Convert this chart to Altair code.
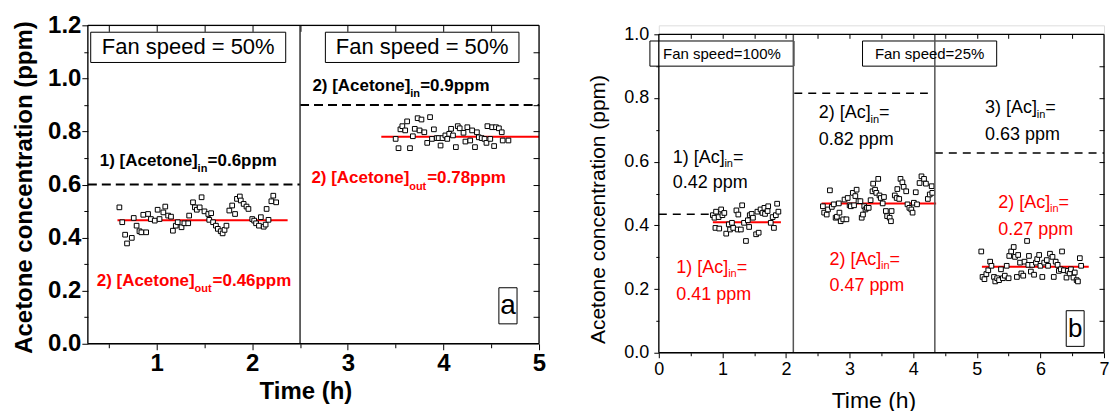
import altair as alt
import pandas as pd

FONT = "Liberation Sans"
RED = "#ff0000"
BLACK = "#000000"

# ---------------- panel (a) data ----------------
a_run1_time = [0.61, 0.64, 0.67, 0.69, 0.74, 0.76, 0.79, 0.82, 0.84, 0.86, 0.89, 0.91, 0.94, 0.98,
               1.01, 1.03, 1.07, 1.09, 1.12, 1.15, 1.17, 1.20, 1.22, 1.26, 1.29, 1.33, 1.34, 1.38,
               1.40, 1.42, 1.45, 1.47, 1.50, 1.54, 1.55, 1.57, 1.59, 1.62, 1.64, 1.67, 1.69, 1.71,
               1.73, 1.76, 1.79, 1.82, 1.84, 1.87, 1.88, 1.91, 1.94, 1.96, 2.00, 2.02, 2.04, 2.07,
               2.09, 2.12, 2.14, 2.15, 2.17, 2.20, 2.22, 2.25]
a_run1_conc = [0.514, 0.458, 0.411, 0.378, 0.399, 0.474, 0.445, 0.424, 0.420, 0.486, 0.420, 0.489,
               0.470, 0.464, 0.505, 0.470, 0.495, 0.517, 0.483, 0.479, 0.426, 0.445, 0.458, 0.439,
               0.454, 0.454, 0.483, 0.533, 0.514, 0.505, 0.514, 0.552, 0.499, 0.489, 0.467, 0.492,
               0.458, 0.445, 0.433, 0.424, 0.416, 0.429, 0.445, 0.502, 0.521, 0.489, 0.546, 0.555,
               0.540, 0.527, 0.517, 0.508, 0.470, 0.464, 0.454, 0.445, 0.477, 0.441, 0.449, 0.508,
               0.467, 0.537, 0.558, 0.533]
a_run2_time = [3.50, 3.53, 3.55, 3.57, 3.60, 3.62, 3.65, 3.68, 3.70, 3.73, 3.75, 3.77, 3.80, 3.83,
               3.86, 3.88, 3.90, 3.93, 3.95, 3.97, 3.99, 4.02, 4.04, 4.06, 4.08, 4.10, 4.13, 4.15,
               4.17, 4.21, 4.23, 4.25, 4.28, 4.30, 4.33, 4.35, 4.37, 4.40, 4.43, 4.45, 4.46, 4.49,
               4.51, 4.53, 4.55, 4.58, 4.61, 4.62, 4.68]
a_run2_conc = [0.772, 0.737, 0.808, 0.820, 0.804, 0.838, 0.737, 0.782, 0.810, 0.850, 0.804, 0.845,
               0.797, 0.757, 0.854, 0.772, 0.808, 0.775, 0.775, 0.747, 0.775, 0.785, 0.772, 0.791,
               0.810, 0.785, 0.741, 0.820, 0.812, 0.795, 0.762, 0.816, 0.766, 0.804, 0.741, 0.797,
               0.778, 0.775, 0.772, 0.757, 0.820, 0.772, 0.816, 0.745, 0.816, 0.812, 0.797, 0.766,
               0.766]

a_inlet_start = [0.28, 2.5]
a_inlet_end = [2.5, 5.0]
a_inlet_level = [0.6, 0.9]
a_outlet_start = [0.59, 3.35]
a_outlet_end = [2.37, 5.0]
a_outlet_level = [0.465, 0.78]
a_divider = [2.5]

a_box_text = ["Fan speed = 50%", "Fan speed = 50%", "a"]
a_box_x0 = [0.31, 2.765, 4.58]
a_box_x1 = [2.35, 4.79, 4.77]
a_box_y0 = [1.06, 1.06, 0.075]
a_box_y1 = [1.174, 1.174, 0.211]
a_box_size = [22, 22, 28]

a_text = ["1) [Acetone]", "in", "=0.6ppm",
          "2) [Acetone]", "in", "=0.9ppm",
          "2) [Acetone]", "out", "=0.78ppm",
          "2) [Acetone]", "out", "=0.46ppm"]
a_text_x = [0.405, 1.428, 1.533,
            2.629, 3.653, 3.757,
            2.619, 3.642, 3.83,
            0.373, 1.397, 1.585]
a_text_y = [0.69, 0.66, 0.69,
            0.97, 0.94, 0.97,
            0.623, 0.592, 0.623,
            0.238, 0.2075, 0.238]
a_text_size = [17, 11, 17] * 4
a_text_color = [BLACK] * 6 + [RED] * 6

# ---------------- panel (b) data ----------------
b_run1_time = [0.85, 0.875, 0.90, 0.94, 0.98, 1.00, 1.03, 0.89, 0.95, 1.06, 1.10, 1.12, 1.15, 1.17,
               1.22, 1.25, 1.24, 1.29, 1.31, 1.34, 1.37, 1.40, 1.42, 1.43, 1.46, 1.48, 1.53, 1.57,
               1.55, 1.60, 1.63, 1.66, 1.67, 1.71, 1.72, 1.76, 1.79, 1.81, 1.84, 1.86, 1.88]
b_run1_conc = [0.432, 0.424, 0.443, 0.426, 0.450, 0.432, 0.439, 0.392, 0.390, 0.374, 0.403, 0.387,
               0.408, 0.392, 0.447, 0.434, 0.387, 0.387, 0.463, 0.408, 0.351, 0.416, 0.395, 0.432,
               0.436, 0.424, 0.372, 0.377, 0.443, 0.450, 0.439, 0.455, 0.436, 0.445, 0.460, 0.408,
               0.426, 0.392, 0.432, 0.468, 0.443]
b_run2_time = [2.58, 2.60, 2.64, 2.66, 2.69, 2.72, 2.75, 2.78, 2.80, 2.83, 2.84, 2.86, 2.90, 2.92,
               2.95, 2.97, 3.00, 3.02, 3.05, 3.07, 3.09, 3.11, 3.14, 3.17, 3.19, 3.21, 3.23, 3.25,
               3.27, 3.30, 3.33, 3.36, 3.37, 3.40, 3.42, 3.45, 3.47, 3.49, 3.52, 3.54, 3.57, 3.59,
               3.63, 3.65, 3.66, 3.71, 3.74, 3.75, 3.78, 3.80, 3.83, 3.85, 3.89, 3.91, 3.94, 3.97,
               3.99, 4.01, 4.04, 4.06, 4.10, 4.13, 4.17, 4.20, 4.23, 4.26, 4.29, 4.30]
b_run2_conc = [0.460, 0.440, 0.434, 0.450, 0.510, 0.458, 0.466, 0.424, 0.427, 0.469, 0.440, 0.413,
               0.419, 0.481, 0.419, 0.486, 0.463, 0.460, 0.502, 0.463, 0.492, 0.512, 0.476, 0.476,
               0.424, 0.434, 0.460, 0.450, 0.455, 0.455, 0.479, 0.507, 0.531, 0.512, 0.502, 0.546,
               0.494, 0.486, 0.469, 0.489, 0.445, 0.429, 0.424, 0.413, 0.445, 0.494, 0.486, 0.514,
               0.483, 0.546, 0.535, 0.521, 0.507, 0.466, 0.455, 0.450, 0.440, 0.471, 0.504, 0.466,
               0.533, 0.554, 0.546, 0.531, 0.483, 0.497, 0.523, 0.502]
b_run3_time = [5.07, 5.09, 5.12, 5.15, 5.18, 5.21, 5.23, 5.27, 5.29, 5.32, 5.35, 5.38, 5.41, 5.44,
               5.47, 5.50, 5.51, 5.54, 5.58, 5.60, 5.63, 5.65, 5.68, 5.70, 5.73, 5.75, 5.79, 5.81,
               5.82, 5.85, 5.87, 5.90, 5.93, 5.95, 5.98, 6.00, 6.03, 6.06, 6.10, 6.12, 6.15, 6.19,
               6.21, 6.24, 6.27, 6.29, 6.32, 6.34, 6.37, 6.41, 6.43, 6.46, 6.48, 6.52, 6.54, 6.57,
               6.59, 6.62, 6.64]
b_run3_conc = [0.318, 0.238, 0.231, 0.247, 0.259, 0.286, 0.273, 0.238, 0.224, 0.234, 0.228, 0.262,
               0.234, 0.242, 0.273, 0.234, 0.304, 0.318, 0.332, 0.301, 0.238, 0.307, 0.283, 0.249,
               0.242, 0.286, 0.351, 0.276, 0.304, 0.255, 0.276, 0.245, 0.283, 0.294, 0.307, 0.273,
               0.238, 0.283, 0.291, 0.273, 0.311, 0.301, 0.238, 0.286, 0.276, 0.257, 0.262, 0.318,
               0.259, 0.236, 0.257, 0.249, 0.262, 0.236, 0.252, 0.228, 0.224, 0.297, 0.273]

b_inlet_start = [0.0, 2.13, 4.34]
b_inlet_end = [0.85, 4.23, 7.0]
b_inlet_level = [0.435, 0.815, 0.627]
b_outlet_start = [0.85, 2.56, 5.08]
b_outlet_end = [1.92, 4.36, 6.76]
b_outlet_level = [0.41, 0.469, 0.27]
b_divider = [2.115, 4.34]

b_box_text = ["Fan speed=100%", "Fan speed=25%", "b"]
b_box_x0 = [-0.14, 3.203, 6.406]
b_box_x1 = [2.125, 5.3125, 6.6875]
b_box_y0 = [0.9, 0.9, 0.02]
b_box_y1 = [0.979, 0.979, 0.132]
b_box_size = [15, 15, 26]

b_text = ["1) [Ac]", "in", "=", "0.42 ppm",
          "2) [Ac]", "in", "=", "0.82 ppm",
          "3) [Ac]", "in", "=", "0.63 ppm",
          "1) [Ac]", "in", "=", "0.41 ppm",
          "2) [Ac]", "in", "=", "0.47 ppm",
          "2) [Ac]", "in", "=", "0.27 ppm"]
b_text_x = [0.219, 1.031, 1.165, 0.219,
            2.516, 3.328, 3.462, 2.516,
            5.13, 5.942, 6.076, 5.13,
            0.276, 1.09, 1.224, 0.276,
            2.683, 3.495, 3.629, 2.683,
            5.339, 6.152, 6.286, 5.339]
b_text_y = [0.611, 0.5916, 0.611, 0.533,
            0.752, 0.732, 0.752, 0.669,
            0.7675, 0.748, 0.7675, 0.684,
            0.2675, 0.248, 0.2675, 0.181,
            0.29, 0.271, 0.29, 0.21,
            0.4706, 0.451, 0.4706, 0.384]
b_text_size = [18, 11, 18, 18] * 6
b_text_color = [BLACK] * 12 + [RED] * 12


# ---------------- helpers ----------------
def tick_axis(orient, values, size, offset=0):
    return alt.Axis(orient=orient, values=values, tickSize=size, labels=False, domain=False,
                    grid=False, tickColor="black", tickWidth=1, offset=offset, title=None)


def main_axis(orient, values, fmt, size, lsize, weight, lpad, title, tsize, tx, ty):
    return alt.Axis(orient=orient, values=values, format=fmt, tickSize=size, tickColor="black",
                    tickWidth=1, domain=False, grid=False, labelFont=FONT, labelFontSize=lsize,
                    labelFontWeight=weight, labelColor="black", labelPadding=lpad,
                    labelFlush=False, labelOverlap=False, title=title, titleFont=FONT,
                    titleFontSize=tsize, titleFontWeight=weight, titleColor="black",
                    titleX=tx, titleY=ty, titleBaseline="middle")


def axis_layer(df, xs, ys, xaxis, yaxis):
    return alt.Chart(df).mark_point(opacity=0).encode(
        x=alt.X("t:Q", scale=xs, axis=xaxis),
        y=alt.Y("v:Q", scale=ys, axis=yaxis))


def panel(points, inlet, outlet, dividers, frame, boxes, texts, xs, ys, weight, axes, dash,
          div_color, line_w):
    frm = alt.Chart(frame).mark_rule(color="black", strokeWidth=1.3).encode(
        x=alt.X("x0:Q", scale=xs, axis=None), x2="x1:Q",
        y=alt.Y("y0:Q", scale=ys, axis=None), y2="y1:Q")
    pts = alt.Chart(points).mark_point(shape="square", size=22, filled=True, fill="white",
                                       stroke="black", strokeWidth=1, opacity=1).encode(
        x=alt.X("t:Q", scale=xs, axis=None), y=alt.Y("v:Q", scale=ys, axis=None))
    inl = alt.Chart(inlet).mark_rule(color="black", strokeDash=dash, strokeWidth=line_w).encode(
        x=alt.X("x0:Q", scale=xs, axis=None), x2="x1:Q", y=alt.Y("lvl:Q", scale=ys, axis=None))
    outl = alt.Chart(outlet).mark_rule(color=RED, strokeWidth=2).encode(
        x=alt.X("x0:Q", scale=xs, axis=None), x2="x1:Q", y=alt.Y("lvl:Q", scale=ys, axis=None))
    div = alt.Chart(dividers).mark_rule(color=div_color, strokeWidth=1.5).encode(
        x=alt.X("t:Q", scale=xs, axis=None),
        y=alt.Y("y0:Q", scale=ys, axis=None), y2="y1:Q")
    rects = alt.Chart(boxes).mark_rect(fill="white", stroke="black", strokeWidth=1).encode(
        x=alt.X("x0:Q", scale=xs, axis=None), x2="x1:Q",
        y=alt.Y("y0:Q", scale=ys, axis=None), y2="y1:Q")
    box_txt = alt.Chart(boxes).mark_text(font=FONT, align="center", baseline="middle",
                                         color="black").encode(
        x=alt.X("xc:Q", scale=xs, axis=None), y=alt.Y("yc:Q", scale=ys, axis=None),
        text="label:N", size=alt.Size("size:Q", scale=None))
    txt = alt.Chart(texts).mark_text(font=FONT, fontWeight=weight, align="left",
                                     baseline="middle").encode(
        x=alt.X("x:Q", scale=xs, axis=None), y=alt.Y("y:Q", scale=ys, axis=None),
        text="label:N", size=alt.Size("size:Q", scale=None),
        color=alt.Color("color:N", scale=None))
    ax_layers = [axis_layer(points, xs, ys, xa, ya) for xa, ya in axes]
    return alt.layer(*ax_layers, rects, inl, outl, pts, div, frm, box_txt, txt).resolve_axis(
        x="independent", y="independent")


def boxes_df(text, x0, x1, y0, y1, size):
    df = pd.DataFrame({"label": text, "x0": x0, "x1": x1, "y0": y0, "y1": y1, "size": size})
    df["xc"] = (df.x0 + df.x1) / 2
    df["yc"] = (df.y0 + df.y1) / 2
    return df


def frame_df(xmin, xmax, ymin, ymax):
    return pd.DataFrame({"x0": [xmin, xmin, xmin, xmax], "x1": [xmax, xmax, xmin, xmax],
                         "y0": [ymin, ymax, ymin, ymin], "y1": [ymin, ymax, ymax, ymax]})


# ---------------- panel (a) ----------------
A_X = [0.28, 5.0]
A_Y = [0.0, 1.2]
xa = alt.Scale(domain=A_X, nice=False, zero=False)
ya = alt.Scale(domain=A_Y, nice=False, zero=False)
a_points = pd.DataFrame({"t": a_run1_time + a_run2_time, "v": a_run1_conc + a_run2_conc})
a_inlet = pd.DataFrame({"x0": a_inlet_start, "x1": a_inlet_end, "lvl": a_inlet_level})
a_outlet = pd.DataFrame({"x0": a_outlet_start, "x1": a_outlet_end, "lvl": a_outlet_level})
a_div = pd.DataFrame({"t": a_divider, "y0": A_Y[0], "y1": A_Y[1]})
a_frame = frame_df(A_X[0], A_X[1], A_Y[0], A_Y[1])
a_boxes = boxes_df(a_box_text, a_box_x0, a_box_x1, a_box_y0, a_box_y1, a_box_size)
a_texts = pd.DataFrame({"label": a_text, "x": a_text_x, "y": a_text_y,
                        "size": a_text_size, "color": a_text_color})

a_major_x = [1, 2, 3, 4, 5]
a_minor_x = [0.5, 1.5, 2.5, 3.5, 4.5]
a_major_y = [0.0, 0.2, 0.4, 0.6, 0.8, 1.0, 1.2]
a_minor_y = [0.1, 0.3, 0.5, 0.7, 0.9, 1.1]
a_all_y = [0.1, 0.2, 0.3, 0.4, 0.5, 0.6, 0.7, 0.8, 0.9, 1.0, 1.1]
a_axes = [
    (main_axis("bottom", a_major_x, "d", 6, 24, "bold", 2, "Time (h)", 24, 218, 48),
     main_axis("left", a_major_y, ".1f", 6, 24, "bold", 1, "Acetone concentration (ppm)", 24,
               -63, 162)),
    (tick_axis("bottom", a_minor_x, 4), tick_axis("left", a_minor_y, 4)),
    (tick_axis("top", a_major_x[:-1] + a_minor_x, 6, -6), tick_axis("right", a_all_y, 6, -6)),
]
panel_a = panel(a_points, a_inlet, a_outlet, a_div, a_frame, a_boxes, a_texts, xa, ya, "bold",
                a_axes, [9, 5], "#333333", 2).properties(width=452, height=319)

# ---------------- panel (b) ----------------
# plot top of panel (b) sits 9 px lower than panel (a): extra headroom above 1.0
B_X = [0.0, 7.0]
B_Y = [0.0, 1.0]
B_TOP = 1.0 + 9 / 319
xb = alt.Scale(domain=B_X, nice=False, zero=False)
yb = alt.Scale(domain=[B_Y[0], B_TOP], nice=False, zero=False)
b_points = pd.DataFrame({"t": b_run1_time + b_run2_time + b_run3_time,
                         "v": b_run1_conc + b_run2_conc + b_run3_conc})
b_inlet = pd.DataFrame({"x0": b_inlet_start, "x1": b_inlet_end, "lvl": b_inlet_level})
b_outlet = pd.DataFrame({"x0": b_outlet_start, "x1": b_outlet_end, "lvl": b_outlet_level})
b_div = pd.DataFrame({"t": b_divider, "y0": B_Y[0], "y1": B_Y[1]})
b_frame = frame_df(B_X[0], B_X[1], B_Y[0], B_Y[1])
b_boxes = boxes_df(b_box_text, b_box_x0, b_box_x1, b_box_y0, b_box_y1, b_box_size)
b_texts = pd.DataFrame({"label": b_text, "x": b_text_x, "y": b_text_y,
                        "size": b_text_size, "color": b_text_color})

b_major_x = [0, 1, 2, 3, 4, 5, 6, 7]
b_minor_x = [0.5, 1.5, 2.5, 3.5, 4.5, 5.5, 6.5]
b_major_y = [0.0, 0.2, 0.4, 0.6, 0.8, 1.0]
b_minor_y = [0.1, 0.3, 0.5, 0.7, 0.9]
b_all_y = [0.1, 0.2, 0.3, 0.4, 0.5, 0.6, 0.7, 0.8, 0.9]
b_axes = [
    (main_axis("bottom", b_major_x, "d", 5, 18, "normal", 3, "Time (h)", 23, 215, 48),
     main_axis("left", b_major_y, ".1f", 5, 18, "normal", 5, "Acetone concentration (ppm)", 21,
               -60, 184)),
    (tick_axis("bottom", b_minor_x, 3), tick_axis("left", b_minor_y, 3)),
    (tick_axis("top", b_major_x[1:-1] + b_minor_x, 4, -13), tick_axis("right", b_all_y, 5, -5)),
]
panel_b = panel(b_points, b_inlet, b_outlet, b_div, b_frame, b_boxes, b_texts, xb, yb, "normal",
                b_axes, [8, 6], "#555555", 1.5).properties(width=446, height=328)

chart = alt.hconcat(panel_a, panel_b, spacing=40,
                    padding={"left": 12, "top": 12, "right": 0, "bottom": 0}).configure_view(
    strokeOpacity=0).configure(background="white")

chart.save("out.html", embed_options={"renderer": "svg", "actions": False})
